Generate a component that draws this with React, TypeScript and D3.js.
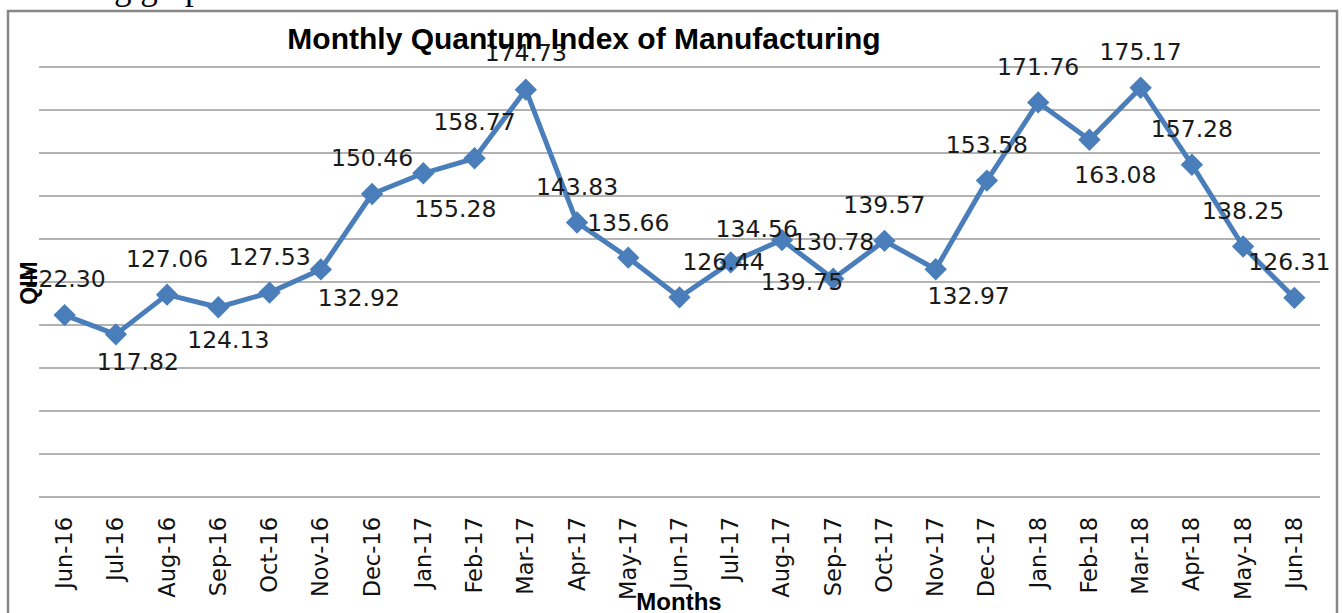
import React, { useEffect, useRef } from 'react';
import * as d3 from 'd3';

// months on the x axis
const months = [
  'Jun-16', 'Jul-16', 'Aug-16', 'Sep-16', 'Oct-16', 'Nov-16', 'Dec-16',
  'Jan-17', 'Feb-17', 'Mar-17', 'Apr-17', 'May-17', 'Jun-17', 'Jul-17',
  'Aug-17', 'Sep-17', 'Oct-17', 'Nov-17', 'Dec-17', 'Jan-18', 'Feb-18',
  'Mar-18', 'Apr-18', 'May-18', 'Jun-18',
];

// quantum index values
const qim = [
  122.30, 117.82, 127.06, 124.13, 127.53, 132.92, 150.46,
  155.28, 158.77, 174.73, 143.83, 135.66, 126.44, 134.56,
  139.75, 130.78, 139.57, 132.97, 153.58, 171.76, 163.08,
  175.17, 157.28, 138.25, 126.31,
];

// gridline values
const yTicks = [80, 90, 100, 110, 120, 130, 140, 150, 160, 170, 180];

// where each data label sits relative to its marker [dx, dy]
const labelShift = [
  [0, -28], [22, 36], [0, -28], [10, 41], [0, -28], [38, 37], [0, -28],
  [32, 44], [0, -28], [0, -29], [0, -28], [0, -27], [44, -27], [26, -25],
  [20, 50], [0, -29], [0, -28], [33, 35], [0, -28], [0, -27], [26, 43],
  [0, -28], [0, -28], [0, -28], [-5, -28],
];

const W = 1342;
const H = 613;
const blue = '#4a7ebb';

export default function App() {
  const ref = useRef<SVGSVGElement>(null);

  useEffect(() => {
    const svg = d3.select(ref.current);
    svg.selectAll('*').remove();

    const x = d3.scaleBand().domain(months).range([39, 1320]);
    const y = d3.scaleLinear().domain([80, 180]).range([497, 67]);
    const cx = (m: string) => (x(m) as number) + x.bandwidth() / 2;

    // bit of the document text above the chart
    svg.append('text')
      .attr('x', 220).attr('y', -1.5)
      .attr('text-anchor', 'end')
      .attr('font-family', '"Liberation Serif", serif')
      .attr('font-size', 35)
      .text('the following graph');

    // chart frame
    svg.append('rect')
      .attr('x', 8).attr('y', 11)
      .attr('width', 1329).attr('height', 620)
      .attr('fill', '#fff')
      .attr('stroke', '#878787')
      .attr('stroke-width', 2.5);

    // gridlines (the bottom one is the category axis)
    svg.append('g')
      .selectAll('line')
      .data(yTicks)
      .enter()
      .append('line')
      .attr('x1', 39).attr('x2', 1320)
      .attr('y1', d => y(d)).attr('y2', d => y(d))
      .attr('stroke', '#9a9a9a')
      .attr('stroke-width', 1.5);

    // category labels
    svg.append('g')
      .selectAll('text')
      .data(months)
      .enter()
      .append('text')
      .attr('transform', d => `translate(${cx(d) + 7.5}, 517) rotate(-90)`)
      .attr('text-anchor', 'end')
      .attr('font-family', '"DejaVu Sans", sans-serif')
      .attr('font-size', 22.5)
      .attr('fill', '#111')
      .text(d => d);

    const pts = months.map((m, i) => ({ m, v: qim[i], i }));

    const line = d3.line<{ m: string; v: number }>()
      .x(d => cx(d.m))
      .y(d => y(d.v));

    svg.append('path')
      .datum(pts)
      .attr('d', line)
      .attr('fill', 'none')
      .attr('stroke', blue)
      .attr('stroke-width', 5)
      .attr('stroke-linejoin', 'round');

    const diamond = d3.symbol().type(d3.symbolSquare).size(250);
    svg.append('g')
      .selectAll('path')
      .data(pts)
      .enter()
      .append('path')
      .attr('d', diamond)
      .attr('transform', d => `translate(${cx(d.m)}, ${y(d.v)}) rotate(45)`)
      .attr('fill', blue);

    // data labels
    svg.append('g')
      .selectAll('text')
      .data(pts)
      .enter()
      .append('text')
      .attr('x', d => cx(d.m) + labelShift[d.i][0])
      .attr('y', d => y(d.v) + labelShift[d.i][1])
      .attr('text-anchor', 'middle')
      .attr('font-family', '"DejaVu Sans", sans-serif')
      .attr('font-size', 23.5)
      .attr('fill', '#1a1a1a')
      .text(d => d.v.toFixed(2));

    // title and axis titles
    svg.append('text')
      .attr('x', 584).attr('y', 49)
      .attr('text-anchor', 'middle')
      .attr('font-family', '"Liberation Sans", Arial, sans-serif')
      .attr('font-weight', 'bold')
      .attr('font-size', 30)
      .attr('fill', '#000')
      .text('Monthly Quantum Index of Manufacturing');

    svg.append('text')
      .attr('transform', 'translate(37, 283) rotate(-90)')
      .attr('text-anchor', 'middle')
      .attr('font-family', '"Liberation Sans", Arial, sans-serif')
      .attr('font-weight', 'bold')
      .attr('font-size', 23)
      .attr('fill', '#000')
      .text('QIM');

    svg.append('text')
      .attr('x', 679).attr('y', 610)
      .attr('text-anchor', 'middle')
      .attr('font-family', '"Liberation Sans", Arial, sans-serif')
      .attr('font-weight', 'bold')
      .attr('font-size', 24)
      .attr('fill', '#000')
      .text('Months');
  }, []);

  return (
    <div style={{ position: 'absolute', left: 0, top: 0, background: '#fff' }}>
      <svg ref={ref} width={W} height={H} style={{ display: 'block', overflow: 'hidden' }} />
    </div>
  );
}
